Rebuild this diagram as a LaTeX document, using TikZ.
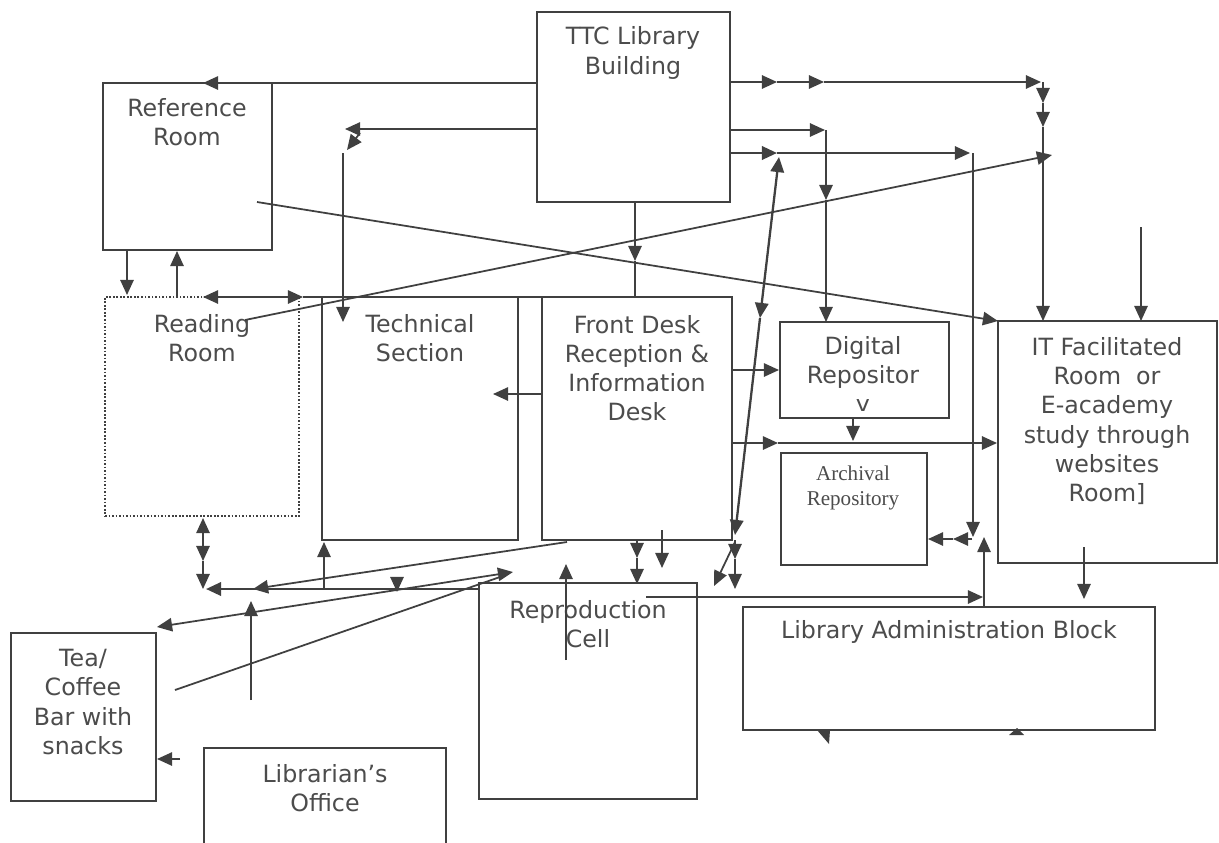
\documentclass[tikz,border=0pt]{standalone}
\usepackage{fontspec}
\setmainfont{DejaVu Sans}
\newfontfamily\archfont{Liberation Serif}
\usetikzlibrary{arrows.meta,fit}
\definecolor{inkline}{gray}{0.25}
\definecolor{inktext}{gray}{0.30}

\begin{document}
\begin{tikzpicture}[x=0.02cm,y=-0.02cm,
            room/.style={draw=inkline,line width=1pt,inner sep=0pt},
            roomtext/.style={text=inktext,align=center,inner sep=0pt,font=\fontsize{13.5}{16.6}\selectfont},
            arr/.style={draw=inkline,line width=1pt,-{Triangle[length=8.6pt,width=7.6pt]}},
            darr/.style={draw=inkline,line width=1pt,{Triangle[length=8.6pt,width=7.6pt]}-{Triangle[length=8.6pt,width=7.6pt]}},
            link/.style={draw=inkline,line width=1pt}
            ]
            \useasboundingbox[fill=white] (0,0) rectangle (1219,842);

            % rooms
            \node[room,fit={(537,12) (730,202)}] (ttc) {};
            \node[room,fit={(103,83) (272,250)}] (ref) {};
            \node[room,densely dotted,fit={(105,297) (299,516)}] (read) {};
            \node[room,fit={(322,297) (518,540)}] (tech) {};
            \node[room,fit={(542,297) (732,540)}] (front) {};
            \node[room,fit={(780,322) (949,418)}] (digi) {};
            \node[room,fit={(781,453) (927,565)}] (arch) {};
            \node[room,fit={(998,321) (1217,563)}] (itroom) {};
            \node[room,fit={(743,607) (1155,730)}] (admin) {};
            \node[room,fit={(479,583) (697,799)}] (repro) {};
            \node[room,fit={(11,633) (156,801)}] (tea) {};
            \node[room,fit={(204,748) (446,850)}] (office) {};

            % room names
            \node[roomtext] (ttct) at (633,53) {TTC Library\\Building};
            \node[roomtext] (reft) at (187,122) {Reference\\Room};
            \node[roomtext] (readt) at (202,338) {Reading\\Room};
            \node[roomtext] (techt) at (420,338) {Technical\\Section};
            \node[roomtext] (frontt) at (637,368) {Front Desk\\Reception \&\\Information\\Desk};
            \begin{scope}
                \clip (780,322) rectangle (949,410);
                \node[roomtext] (digit) at (863,377) {Digital\\Repositor\\y};
            \end{scope}
            \node[roomtext,font=\archfont\fontsize{12}{14.2}\selectfont] (archt) at (853,488) {Archival\\Repository};
            \node[roomtext] (itroomt) at (1107,421) {IT Facilitated\\Room~ or\\E-academy\\study through\\websites\\Room]};
            \node[roomtext] (admint) at (949,632) {Library Administration Block};
            \node[roomtext] (reprot) at (588,624) {Reproduction\\Cell};
            \node[roomtext] (teat) at (83,702) {Tea/\\Coffee\\Bar with\\snacks};
            \node[roomtext] (officet) at (325,788) {Librarian’s\\Office};

            % from the library building
            \draw[arr] (537,83) -- (203,83);
            \draw[arr] (537,129) -- (345,129);
            \draw[arr] (360,133) -- (347,150);
            \draw[arr] (343,153) -- (343,322);
            \draw[arr] (730,82) -- (777,82);
            \draw[arr] (777,82) -- (824,82);
            \draw[arr] (824,82) -- (1041,82);
            \draw[arr] (1043,82) -- (1043,103);
            \draw[arr] (1043,103) -- (1043,127);
            \draw[arr] (1043,127) -- (1043,321);
            \draw[arr] (730,130) -- (825,130);
            \draw[arr] (826,130) -- (826,200);
            \draw[arr] (826,200) -- (826,322);
            \draw[arr,line width=1.5pt] (730,153) -- (777,153);
            \draw[arr] (777,153) -- (970,153);
            \draw[arr] (973,153) -- (973,537);
            \draw[arr] (635,202) -- (635,261);
            \draw[link] (635,261) -- (635,297);

            % long diagonals
            \draw[darr,line width=1.3pt] (779,157) -- (760,318);
            \draw[arr,line width=1.3pt] (760,318) -- (735,535);
            \draw[arr] (735,540) -- (735,559);
            \draw[arr] (735,559) -- (735,589);
            \draw[arr] (735,542) -- (714,586);
            \draw[arr] (257,202) -- (998,321);
            \draw[arr] (245,320) -- (1052,155);

            % around reference and reading room
            \draw[arr] (127,250) -- (127,295);
            \draw[arr] (177,297) -- (177,251);
            \draw[arr] (255,297) -- (203,297);
            \draw[arr] (255,297) -- (303,297);
            \draw[link] (303,297) -- (542,297);
            \draw[arr] (203,545) -- (203,518);
            \draw[arr] (203,545) -- (203,561);
            \draw[arr] (203,561) -- (203,589);
            \draw[arr] (542,394) -- (493,394);

            % bottom corridor
            \draw[arr,line width=1.5pt] (479,589) -- (206,589);
            \draw[arr] (567,542) -- (253,589);
            \draw[arr] (397,578) -- (397,592);
            \draw[arr] (324,589) -- (324,542);
            \draw[arr] (251,700) -- (251,601);
            \draw[darr] (157,627) -- (513,572);
            \draw[link] (175,690) -- (500,577);
            \draw[arr] (180,759) -- (157,759);

            % front desk, repositories and admin
            \draw[arr] (637,540) -- (637,558);
            \draw[arr] (637,558) -- (637,584);
            \draw[arr] (662,530) -- (662,568);
            \draw[arr] (566,660) -- (566,564);
            \draw[arr] (646,597) -- (983,597);
            \draw[arr] (984,607) -- (984,537);
            \draw[arr] (972,539) -- (953,539);
            \draw[arr] (953,539) -- (928,539);
            \draw[arr] (853,418) -- (853,441);
            \draw[arr] (732,370) -- (779,370);
            \draw[arr] (732,443) -- (778,443);
            \draw[arr] (778,443) -- (997,443);
            \draw[arr] (1141,227) -- (1141,321);
            \draw[arr] (1084,547) -- (1084,599);
            \fill[inkline] (817,730) -- (830,730) -- (829,744) -- cycle;
            \fill[inkline] (1009,735) -- (1024,735) -- (1017,728) -- cycle;
        \end{tikzpicture}
\end{document}
